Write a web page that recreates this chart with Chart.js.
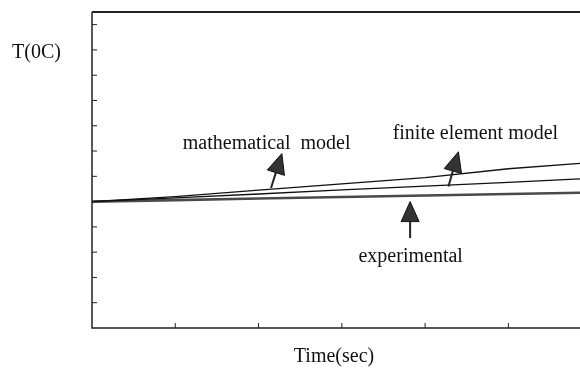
<!DOCTYPE html>
<html>
<head>
<meta charset="utf-8">
<script src="https://cdn.jsdelivr.net/npm/chart.js@4.4.1/dist/chart.umd.min.js"></script>
<style>
  html, body { margin: 0; padding: 0; background: #fff; }
  canvas { display: block; }
</style>
</head>
<body>
<canvas id="grafico" width="580" height="370"></canvas>
<script>
// time axis (arbitrary units, one per tick)
const tempos = [0, 1, 2, 3, 4, 5, 6];
const modeloMatematico = [5.0, 5.2, 5.45, 5.7, 5.95, 6.3, 6.55];
const modeloElementos = [5.0, 5.15, 5.3, 5.46, 5.61, 5.76, 5.92];
const experimental = [5.0, 5.06, 5.12, 5.18, 5.24, 5.3, 5.36];
const ticksX = [1, 2, 3, 4, 5];
const ticksY = [1, 2, 3, 4, 5, 6, 7, 8, 9, 10, 11, 12];

// labels with their arrows, in data units
const notas = [
  { texto: "mathematical  model", x: 1.09, y: 7.09, de: [2.15, 5.54], para: [2.28, 6.9] },
  { texto: "finite element model", x: 3.61, y: 7.49, de: [4.28, 5.6], para: [4.4, 6.97] },
  { texto: "experimental", x: 3.2, y: 2.61, de: [3.82, 3.56], para: [3.82, 5.0] }
];

function pares(valores) {
  return tempos.map(function (t, i) { return { x: t, y: valores[i] }; });
}

function seta(ctx, x0, y0, x1, y1) {
  const dx = x1 - x0, dy = y1 - y0;
  const len = Math.hypot(dx, dy);
  const ux = dx / len, uy = dy / len;
  const comp = 20, larg = 18;
  const bx = x1 - ux * comp, by = y1 - uy * comp;
  ctx.beginPath();
  ctx.moveTo(x0, y0);
  ctx.lineTo(bx, by);
  ctx.lineWidth = 2;
  ctx.strokeStyle = "#222";
  ctx.stroke();
  ctx.beginPath();
  ctx.moveTo(x1, y1);
  ctx.lineTo(bx - uy * larg / 2, by + ux * larg / 2);
  ctx.lineTo(bx + uy * larg / 2, by - ux * larg / 2);
  ctx.closePath();
  ctx.fillStyle = "#333";
  ctx.fill();
  ctx.strokeStyle = "#111";
  ctx.lineWidth = 1;
  ctx.stroke();
}

const moldura = {
  id: "moldura",
  afterDraw: function (chart) {
    const ctx = chart.ctx;
    const area = chart.chartArea;
    const sx = chart.scales.x, sy = chart.scales.y;
    ctx.save();

    // frame: left and bottom, heavier top edge (right side runs off the canvas)
    ctx.strokeStyle = "#222";
    ctx.lineWidth = 1.5;
    ctx.beginPath();
    ctx.moveTo(area.left, area.top);
    ctx.lineTo(area.left, area.bottom);
    ctx.lineTo(area.right, area.bottom);
    ctx.stroke();
    ctx.lineWidth = 2;
    ctx.beginPath();
    ctx.moveTo(area.left, area.top);
    ctx.lineTo(area.right, area.top);
    ctx.stroke();

    // inward tick marks
    ctx.lineWidth = 1;
    ticksX.forEach(function (v) {
      const px = sx.getPixelForValue(v);
      ctx.beginPath();
      ctx.moveTo(px, area.bottom);
      ctx.lineTo(px, area.bottom - 5);
      ctx.stroke();
    });
    ticksY.forEach(function (v) {
      const py = sy.getPixelForValue(v);
      ctx.beginPath();
      ctx.moveTo(area.left, py);
      ctx.lineTo(area.left + 5, py);
      ctx.stroke();
    });

    ctx.fillStyle = "#111";
    ctx.font = '20px "Liberation Serif"';
    ctx.textBaseline = "alphabetic";

    ctx.textAlign = "left";
    ctx.fillText("T(0C)", 12, 58);
    ctx.textAlign = "center";
    ctx.fillText("Time(sec)", 334, 362);

    ctx.textAlign = "left";
    notas.forEach(function (n) {
      ctx.fillStyle = "#111";
      ctx.fillText(n.texto, sx.getPixelForValue(n.x), sy.getPixelForValue(n.y));
      seta(ctx,
        sx.getPixelForValue(n.de[0]), sy.getPixelForValue(n.de[1]),
        sx.getPixelForValue(n.para[0]), sy.getPixelForValue(n.para[1]));
    });

    ctx.restore();
  }
};

const config = {
  type: "line",
  data: {
    datasets: [
      { label: "mathematical model", data: pares(modeloMatematico), borderColor: "#111", borderWidth: 1.3 },
      { label: "finite element model", data: pares(modeloElementos), borderColor: "#111", borderWidth: 1.3 },
      { label: "experimental", data: pares(experimental), borderColor: "#4a4a4a", borderWidth: 2.6 }
    ]
  },
  options: {
    responsive: false,
    animation: false,
    layout: { padding: { left: 92, top: 12, right: 0, bottom: 42 } },
    elements: { point: { radius: 0 }, line: { tension: 0 } },
    plugins: { legend: { display: false }, tooltip: { enabled: false } },
    scales: {
      x: { type: "linear", min: 0, max: 5.86, display: false },
      y: { min: 0, max: 12.5, display: false }
    }
  },
  plugins: [moldura]
};

new Chart(document.getElementById("grafico"), config);
</script>
</body>
</html>
